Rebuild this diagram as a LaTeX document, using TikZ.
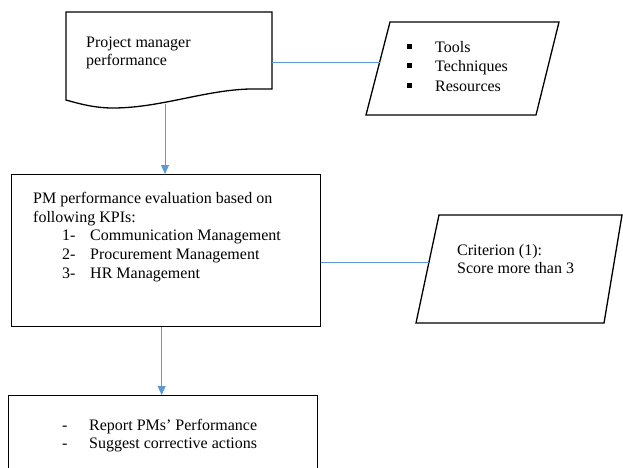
\documentclass[tikz,border=0pt]{standalone}
\usepackage{fontspec}
\setmainfont{Liberation Serif}
\usetikzlibrary{arrows.meta}
\definecolor{linkblue}{HTML}{5B9BD5}
\tikzset{
  outline/.style={draw=black, line width=1.3pt, line join=miter},
  boxnode/.style={outline, rectangle, inner sep=0pt, anchor=north west},
  link/.style={draw=linkblue, line width=0.9pt},
  flow/.style={link, -{Triangle[width=8pt,length=9pt]}},
  txt/.style={font=\fontsize{16}{19}\selectfont, anchor=base west, inner sep=0pt},
}
\newcommand{\sqbullet}{\raisebox{3.2pt}{\rule{4.6pt}{4.6pt}}}
\begin{document}
\begin{tikzpicture}[x=1pt,y=-1pt]
\useasboundingbox (0,0) rectangle (623,467);
\clip (0,0) rectangle (623,467);

% document shape with wavy bottom edge
\draw[outline] (66,12) -- (272,12) -- (272,89) -- (250,89)
  .. controls (205,90) and (160,108) .. (113,108)
  .. controls (95,108) and (80,104) .. (66,100) -- cycle;
\coordinate (docright) at (272,62);
\coordinate (docdrop) at (165,104);
\node[txt] (doc1) at (86,47) {Project manager};
\node[txt] (doc2) at (86,65) {performance};

% parallelogram: tools, techniques, resources
\draw[outline] (390,22) -- (559,22) -- (536,115) -- (366,115) -- cycle;
\coordinate (toolsleft) at (380,62);
\node[txt] (b1) at (407,52) {\sqbullet};
\node[txt] (b2) at (407,71) {\sqbullet};
\node[txt] (b3) at (407,91) {\sqbullet};
\node[txt] (tools) at (435,52) {Tools};
\node[txt] (techniques) at (435,71) {Techniques};
\node[txt] (resources) at (435,91) {Resources};

% evaluation box
\node[boxnode, minimum width=309pt, minimum height=152pt] (eval) at (11,174) {};
\node[txt] (e1) at (33,203) {PM performance evaluation based on};
\node[txt] (e2) at (33,222) {following KPIs:};
\node[txt] (n1) at (62,240) {1-};
\node[txt] (k1) at (90,240) {Communication Management};
\node[txt] (n2) at (62,259) {2-};
\node[txt] (k2) at (90,259) {Procurement Management};
\node[txt] (n3) at (62,278) {3-};
\node[txt] (k3) at (90,278) {HR Management};

% parallelogram: criterion
\draw[outline] (439,215) -- (622,215) -- (604,323) -- (416,323) -- cycle;
\coordinate (critleft) at (429,262);
\node[txt] (c1) at (457,255) {Criterion (1):};
\node[txt] (c2) at (457,273) {Score more than 3};

% report box, running past the lower edge
\node[boxnode, minimum width=309pt, minimum height=120pt] (report) at (8,395) {};
\node[txt] (d1) at (62,430) {-};
\node[txt] (r1) at (89,430) {Report PMs' Performance};
\node[txt] (d2) at (62,448) {-};
\node[txt] (r2) at (89,448) {Suggest corrective actions};

% connectors
\draw[link] (docright) -- (toolsleft);
\draw[flow] (docdrop) -- (docdrop |- eval.north);
\draw[link] (critleft -| eval.east) -- (critleft);
\draw[flow] ([xshift=-4.5pt]eval.south) -- ([xshift=-4.5pt]eval.south |- report.north);
\end{tikzpicture}
\end{document}
